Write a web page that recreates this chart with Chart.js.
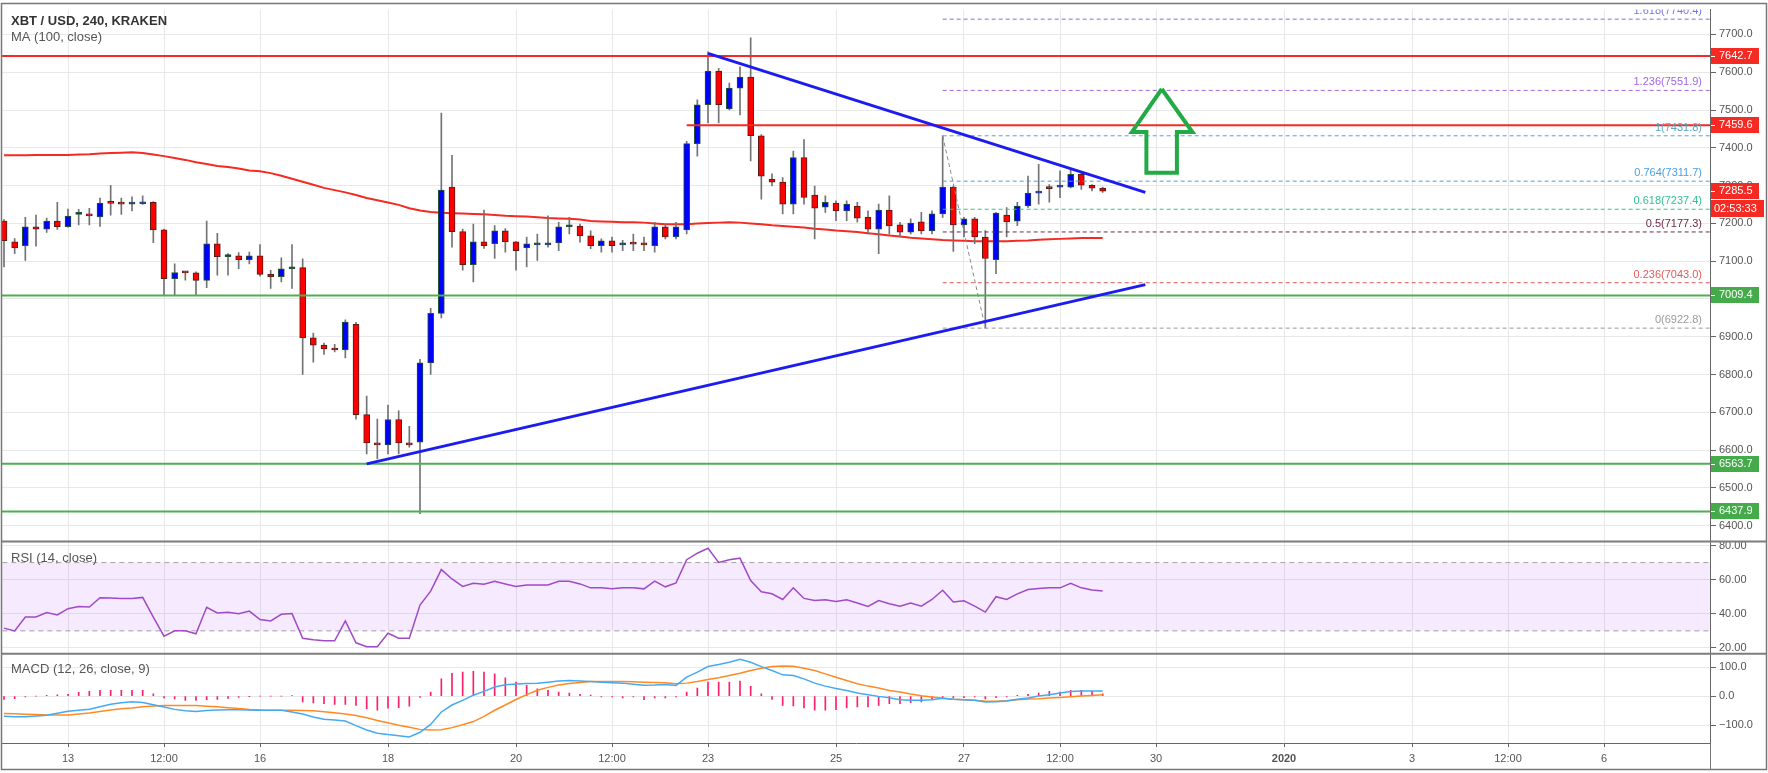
<!DOCTYPE html>
<html>
<head>
<meta charset="utf-8">
<title>XBT / USD 240 KRAKEN</title>
<script src="https://cdn.jsdelivr.net/npm/chart.js@4.4.0/dist/chart.umd.min.js"></script>
<style>
  html, body { margin: 0; padding: 0; background: #fff; }
  #wrap { width: 1768px; height: 773px; }
</style>
</head>
<body>
<div id="wrap"><canvas id="chart" width="1768" height="773"></canvas></div>
<script>
// 4h candles, index 0 = Dec 12 00:00
const opens = [
  7206,7151,7141,7191,7185,7206,7191,7224,7225,7217,
  7254,7254,7251,7252,7256,7183,7054,7070,7069,7049,
  7146,7112,7114,7104,7114,7065,7059,7080,7083,6897,
  6878,6870,6865,6933,6694,6616,6614,6681,6618,6621,
  6831,6962,7296,7178,7091,7151,7146,7180,7151,7135,
  7143,7143,7148,7191,7193,7167,7141,7154,7143,7146,
  7148,7141,7191,7164,7183,7411,7514,7603,7503,7558,
  7587,7432,7317,7309,7251,7374,7275,7243,7254,7233,
  7246,7217,7185,7235,7196,7177,7204,7180,7225,7296,
  7196,7212,7164,7104,7222,7206,7246,7280,7293,7296,
  7296,7330,7301,7293
];
const highs = [
  7210,7160,7216,7222,7214,7256,7238,7237,7240,7267,
  7301,7267,7270,7273,7258,7185,7093,7073,7072,7206,
  7174,7120,7123,7124,7144,7076,7109,7144,7106,6910,
  6883,6880,6945,6938,6743,6682,6719,6704,6663,6840,
  6975,7492,7380,7185,7198,7235,7194,7186,7152,7164,
  7172,7220,7203,7216,7198,7180,7159,7164,7155,7172,
  7164,7203,7198,7203,7417,7527,7654,7610,7571,7614,
  7691,7435,7331,7321,7391,7422,7299,7273,7260,7260,
  7256,7233,7251,7273,7203,7212,7229,7233,7431.8,7299,
  7216,7216,7181,7229,7242,7256,7325,7356,7303,7339,
  7343,7334,7303,7296
];
const lows = [
  7085,7120,7102,7140,7176,7184,7190,7196,7196,7192,
  7222,7224,7233,7250,7149,7010,7010,7050,7010,7030,
  7063,7063,7080,7093,7060,7028,7045,7028,6800,6833,
  6853,6860,6844,6682,6590,6577,6590,6590,6608,6432,
  6800,6950,7137,7076,7045,7134,7107,7124,7076,7085,
  7102,7137,7128,7172,7150,7133,7124,7124,7128,7128,
  7128,7124,7159,7159,7172,7378,7466,7466,7500,7487,
  7365,7264,7299,7225,7225,7251,7159,7229,7207,7207,
  7203,7172,7120,7172,7164,7172,7172,7172,7216,7126,
  7164,7146,6922.8,7067,7164,7194,7242,7251,7256,7268,
  7294,7290,7286,7282
];
const closes = [
  7154,7135,7191,7185,7206,7191,7219,7226,7220,7254,
  7253,7251,7252,7256,7183,7054,7070,7069,7049,7146,
  7112,7114,7104,7114,7065,7059,7080,7081,6897,6878,
  6868,6865,6939,6694,6619,6614,6681,6619,6614,6831,
  6962,7288,7178,7091,7151,7141,7180,7151,7128,7146,
  7144,7148,7191,7193,7167,7141,7154,7141,7144,7145,
  7143,7191,7164,7191,7411,7514,7603,7514,7558,7587,
  7432,7325,7309,7251,7374,7269,7240,7256,7233,7251,
  7214,7185,7235,7193,7177,7201,7180,7225,7296,7196,
  7212,7164,7107,7227,7204,7246,7280,7285,7292,7298,
  7330,7301,7293,7285.5
];
const ma100 = [
  7380,7380,7380,7381,7381,7381,7381,7382,7383,7385,
  7386,7387,7388,7386,7382,7378,7373,7368,7362,7357,
  7352,7349,7345,7340,7338,7333,7326,7318,7310,7302,
  7294,7288,7282,7275,7267,7261,7255,7249,7240,7234,
  7230,7228,7227,7226,7225,7224,7222,7220,7219,7218,
  7216,7214,7213,7212,7210,7206,7205,7204,7203,7203,
  7202,7200,7198,7198,7198,7200,7201,7202,7203,7202,
  7200,7198,7195,7193,7191,7189,7186,7184,7181,7179,
  7177,7174,7171,7168,7165,7162,7160,7158,7156,7155,
  7154,7153,7153,7153,7153,7154,7155,7157,7158,7159,
  7160,7161,7161,7161
];
const rsi = [
  31.6,30,38.1,38.1,40.7,39.3,43,44.3,44,49.4,
  49.2,49,49,49.6,38.1,26.9,30,30,28.3,43.8,
  40.5,40.9,40.1,41.6,36.6,35.8,39.7,40.1,25.7,24.8,
  24.2,24.2,35.8,23,20.7,20.7,28.6,25.7,25.7,45.1,
  53.3,65.9,60.4,56,57.9,57.3,59.1,57.5,56,56.9,
  56.9,56.9,59.1,59.1,57.5,55.2,55.2,54.6,55.2,55.2,
  54.6,59.1,55.8,58.1,71.7,75.5,78.4,70.1,71.7,72.6,
  59.5,52.9,51.7,48.4,55.2,49,47.8,48.2,47.2,48.2,
  46.3,44.3,47.8,45.9,44.5,46.3,44.5,48.4,53.8,46.9,
  47.6,44.5,41,50,48.4,51.7,54.2,54.8,55.2,55.2,
  57.9,55.2,54,53.4
];
const macd = [
  -69.6,-71,-71.8,-69,-66,-59,-52.4,-49,-45.6,-37,
  -28,-23,-20,-22,-30,-37.6,-46,-51,-53,-50,
  -48.5,-47,-47.5,-48.5,-49,-49,-49,-55,-62,-72,
  -80,-83,-86,-102,-117,-128,-133,-137,-141,-125,
  -98,-55,-31,-15,3,16,31,39,42,43.5,
  44.6,48,52,53.7,52,50,48,46,44.6,41,
  37.7,38,40,36.6,65.1,82.3,101.7,108.5,116.5,126.8,
  116.5,101.7,88,73.1,70.9,59.4,44.6,34.3,26.3,19.5,
  10.3,4.6,-1.1,-5.7,-12.4,-14.8,-14.8,-12.4,-7.9,-11.2,
  -12.4,-14.8,-20.5,-19.4,-17.1,-11.3,-6.8,0,4.6,10.3,
  16,17.2,17.2,17.2
];
const signal = [
  -60.4,-61.5,-62.7,-64,-65,-65,-65,-62,-58.2,-53,
  -48,-44,-41,-37,-34.5,-33,-33,-33,-33,-35,
  -37,-40,-43,-46,-48,-49,-49,-49,-50,-51,
  -54,-58,-62,-67,-75,-84,-92,-101,-108,-115,
  -117.5,-116,-109,-99,-88,-70,-49,-31,-12,5,
  20,30,38,43,47,50,50.3,50.3,50.3,49,
  48,47,45.7,42.3,44.6,50.3,57.2,62.9,70.9,78.8,
  88,96,101.7,104,102.8,96,88,76.5,65.1,53.7,
  42.3,34.3,27.5,19.5,13.8,7,1.1,-3.4,-7.9,-11.3,
  -12.5,-14.8,-18.2,-18.2,-15.9,-12.5,-10.2,-9.1,-6.8,-4.6,
  -2.3,0,2.3,4.6
];
const hist = [
  -11.4,-9.1,-3.4,0,2.3,4.6,5.7,12.6,16,19.4,
  19.4,19.4,19.4,19.4,8,-6.8,-10.3,-14.8,-14.8,-12.6,
  -11.4,-8,-4.6,-1.1,0,0,0,1.1,-20.5,-24,
  -26.3,-28.5,-28.5,-32,-43.3,-49,-42,-40,-35,-5,
  13.8,59.4,78.8,82.3,85.7,82.3,76.5,62.9,48,36.6,
  25.2,19.4,13.8,10.3,5.7,3.4,-3.4,-3.4,-6.8,-3.4,
  -12.6,-6.8,-6.8,-3.4,13.8,27.5,48,48,48,51.4,
  33.2,8,-11.4,-32,-34.2,-41,-49,-49,-46.7,-41,
  -37.6,-37.6,-32,-26.3,-26.3,-22.8,-20.5,-11.4,-5.7,-5.7,
  -5.7,-3.4,-10.3,-5.7,-3.4,2.3,5.7,10.3,16,13.8,
  19.4,19.4,16,8
];

// axis ticks
const timeTicks = [6, 15, 24, 36, 48, 57, 66, 78, 90, 99, 108, 120, 132, 141, 150];
const timeLabels = ['13', '12:00', '16', '18', '20', '12:00', '23', '25', '27', '12:00', '30', '2020', '3', '12:00', '6'];
const priceTicks = [6400, 6500, 6600, 6700, 6800, 6900, 7000, 7100, 7200, 7300, 7400, 7500, 7600, 7700];
const rsiTicks = [20, 40, 60, 80];
const macdTicks = [-100, 0, 100];

// drawings
const resistance = [7642.7, 7459.6];
const resistanceStart = [-1, 64];
const support = [7009.4, 6563.7, 6437.9];
const fibRatios = ['1.618', '1.236', '1', '0.764', '0.618', '0.5', '0.236', '0'];
const fibPrices = [7740.4, 7551.9, 7431.8, 7311.7, 7237.4, 7177.3, 7043.0, 6922.8];
const fibColors = ['#7474ea', '#a066e6', '#56a6c8', '#4b9fe0', '#2fc48e', '#6b2a48', '#e35b5b', '#9a9a9a'];
const fibStart = 88;
const fibDiagX = [88, 92];
const fibDiagY = [7431.8, 6922.8];
const downTrendX = [66, 107];
const downTrendY = [7650, 7282];
const upTrendX = [34, 107];
const upTrendY = [6563.7, 7038];
const arrowX = [108.54, 111.41, 109.96, 109.96, 107.1, 107.1, 105.75, 108.54];
const arrowY = [7555.6, 7441.9, 7441.9, 7334.2, 7334.2, 7441.9, 7441.9, 7555.6];
const axisBoxes = [7642.7, 7459.6, 7285.5, 7009.4, 6563.7, 6437.9];
const axisBoxColors = ['#f52a22', '#f52a22', '#f52a22', '#45aa4a', '#45aa4a', '#45aa4a'];
const countdown = '02:53:33';

const FONT = "'Liberation Sans', Arial, sans-serif";
const AXIS_W = 58;

const pts = arr => arr.map((v, i) => ({ x: i, y: v }));
const seg = (xs, ys) => xs.map((x, k) => ({ x: x, y: ys[k] }));

function line(data, yAxisID, color, width, dash, order, extra) {
  return Object.assign({
    type: 'line', data: data, yAxisID: yAxisID, xAxisID: 'x',
    borderColor: color, borderWidth: width, borderDash: dash || [],
    pointRadius: 0, fill: false, tension: 0, order: order
  }, extra || {});
}

const datasets = [];

// candles (MA sits behind them, drawings on top)
datasets.push({
  type: 'bar', yAxisID: 'yPrice', xAxisID: 'x', grouped: false, order: 6,
  data: lows.map((l, i) => ({ x: i, y: [l, highs[i]] })),
  backgroundColor: '#737375', barThickness: 1
});
datasets.push({
  type: 'bar', yAxisID: 'yPrice', xAxisID: 'x', grouped: false, order: 5,
  data: opens.map((o, i) => ({ x: i, y: [o, closes[i]] })),
  backgroundColor: closes.map((c, i) => c >= opens[i] ? '#0000ff' : '#ff0000'),
  borderColor: closes.map((c, i) => c >= opens[i] ? '#225437' : '#5b1a13'),
  borderWidth: 1, borderSkipped: false, barThickness: 6, minBarLength: 2
});
datasets.push(line(pts(ma100), 'yPrice', '#f52a22', 2, null, 7));

resistance.forEach((p, k) => datasets.push(line(seg([resistanceStart[k], 170], [p, p]), 'yPrice', '#f52a22', 2, null, 3)));
support.forEach(p => datasets.push(line(seg([-1, 170], [p, p]), 'yPrice', '#4caf50', 2, null, 3)));
fibPrices.forEach((p, k) => datasets.push(line(seg([fibStart, 170], [p, p]), 'yPrice', fibColors[k], 1, [4, 3], 3)));
datasets.push(line(seg(fibDiagX, fibDiagY), 'yPrice', '#8a8a8a', 1, [4, 3], 3));
datasets.push(line(seg(downTrendX, downTrendY), 'yPrice', '#1c1cf0', 3, null, 2));
datasets.push(line(seg(upTrendX, upTrendY), 'yPrice', '#1c1cf0', 3, null, 2));
datasets.push(line(seg(arrowX, arrowY), 'yPrice', '#22aa44', 4, null, 1, { borderJoinStyle: 'miter' }));

// RSI pane
datasets.push(line(seg([-1, 170], [70, 70]), 'yRsi', '#a3a3a3', 1, [5, 4], 9,
  { fill: { value: 30 }, backgroundColor: 'rgba(153, 21, 255, 0.09)' }));
datasets.push(line(seg([-1, 170], [30, 30]), 'yRsi', '#a3a3a3', 1, [5, 4], 9));
datasets.push(line(pts(rsi), 'yRsi', '#a04ac6', 1.5, null, 8));

// MACD pane
datasets.push({
  type: 'bar', yAxisID: 'yMacd', xAxisID: 'x', grouped: false, order: 10,
  data: pts(hist), backgroundColor: '#ff1f6a', barThickness: 1
});
datasets.push(line(pts(macd), 'yMacd', '#45aaf2', 1.5, null, 8));
datasets.push(line(pts(signal), 'yMacd', '#ff8a24', 1.5, null, 8));

const axisFont = { family: FONT, size: 11 };

function yAxis(weight, min, max, tickList, fmt) {
  return {
    type: 'linear', position: 'right', stack: 'panes', stackWeight: weight,
    min: min, max: max, offset: false,
    afterFit: s => { s.width = AXIS_W; },
    afterBuildTicks: s => { s.ticks = tickList.map(v => ({ value: v })); },
    ticks: { callback: fmt, font: axisFont, color: '#555', padding: 3 },
    grid: { color: '#e8e8e8', tickLength: 6, tickColor: '#666' },
    border: { color: '#666', width: 1 }
  };
}

const overlay = {
  id: 'overlay',
  afterDraw(chart) {
    const { ctx, chartArea: ca, scales } = chart;
    const yP = scales.yPrice, yR = scales.yRsi, yM = scales.yMacd;
    ctx.save();

    // titles
    ctx.textBaseline = 'middle';
    ctx.textAlign = 'left';
    ctx.fillStyle = '#333';
    ctx.font = 'bold 13px ' + FONT;
    ctx.fillText('XBT / USD, 240, KRAKEN', ca.left + 9, 21);
    ctx.fillStyle = '#555';
    ctx.font = '13px ' + FONT;
    ctx.fillText('MA (100, close)', ca.left + 9, 37);
    ctx.fillText('RSI (14, close)', ca.left + 9, yR.top + 17);
    ctx.fillText('MACD (12, 26, close, 9)', ca.left + 9, yM.top + 16);

    // fib labels
    ctx.save();
    ctx.beginPath();
    ctx.rect(ca.left, yP.top, ca.right - ca.left, yP.bottom - yP.top);
    ctx.clip();
    ctx.textAlign = 'right';
    ctx.font = '11px ' + FONT;
    fibPrices.forEach((p, k) => {
      ctx.fillStyle = fibColors[k];
      ctx.fillText(fibRatios[k] + '(' + p.toFixed(1) + ')', ca.right - 8, yP.getPixelForValue(p) - 8);
    });
    ctx.restore();

    // pane separators
    ctx.strokeStyle = '#7d7d7d';
    ctx.lineWidth = 2;
    [yR.top, yM.top].forEach(y => {
      ctx.beginPath(); ctx.moveTo(ca.left, y); ctx.lineTo(chart.width - 2, y); ctx.stroke();
    });

    // price boxes on the axis
    ctx.textAlign = 'left';
    ctx.font = '11px ' + FONT;
    axisBoxes.forEach((v, k) => {
      const y = Math.round(yP.getPixelForValue(v));
      ctx.fillStyle = axisBoxColors[k];
      ctx.fillRect(ca.right + 1, y - 8, 48, 16);
      ctx.fillStyle = '#fff';
      ctx.fillText(v.toFixed(1), ca.right + 9, y);
      ctx.fillRect(ca.right + 1, y, 4, 1);
    });
    const yLast = Math.round(yP.getPixelForValue(axisBoxes[2]));
    ctx.fillStyle = axisBoxColors[2];
    ctx.fillRect(ca.right + 1, yLast + 9, 53, 17);
    ctx.fillStyle = '#fff';
    ctx.fillText(countdown, ca.right + 4, yLast + 17.5);

    // frame
    ctx.strokeStyle = '#777';
    ctx.lineWidth = 1.5;
    ctx.strokeRect(1.5, 3.5, chart.width - 3, chart.height - 7);
    ctx.lineWidth = 1;
    ctx.beginPath();
    ctx.moveTo(ca.right + 0.5, ca.bottom);
    ctx.lineTo(ca.right + 0.5, chart.height - 4);
    ctx.stroke();

    ctx.restore();
  }
};

new Chart(document.getElementById('chart'), {
  type: 'bar',
  data: { datasets: datasets },
  options: {
    responsive: false,
    animation: false,
    events: [],
    layout: { padding: { left: 2, top: 4, right: 0, bottom: 4 } },
    plugins: { legend: { display: false }, tooltip: { enabled: false } },
    scales: {
      x: {
        type: 'linear', position: 'bottom', min: -0.1875, max: 159.9375, offset: false,
        afterBuildTicks: s => { s.ticks = timeTicks.map(v => ({ value: v })); },
        afterFit: s => { s.height = 26; },
        ticks: {
          autoSkip: false, maxRotation: 0, padding: 5, color: '#555',
          font: c => ({ family: FONT, size: 11, weight: c.tick && c.tick.label === '2020' ? 'bold' : 'normal' }),
          callback: (v, i) => timeLabels[i]
        },
        grid: { color: '#e8e8e8', tickLength: 4, tickColor: '#666', offset: false },
        border: { color: '#666' }
      },
      yPrice: yAxis(536, 6358.1, 7765.7, priceTicks, v => v.toFixed(1)),
      yRsi: yAxis(113, 16.63, 82.33, rsiTicks, v => v.toFixed(2)),
      yMacd: yAxis(90, -162, 146.2, macdTicks, v => (v < 0 ? '\u2212' : '') + Math.abs(v).toFixed(1))
    }
  },
  plugins: [overlay]
});
</script>
</body>
</html>
